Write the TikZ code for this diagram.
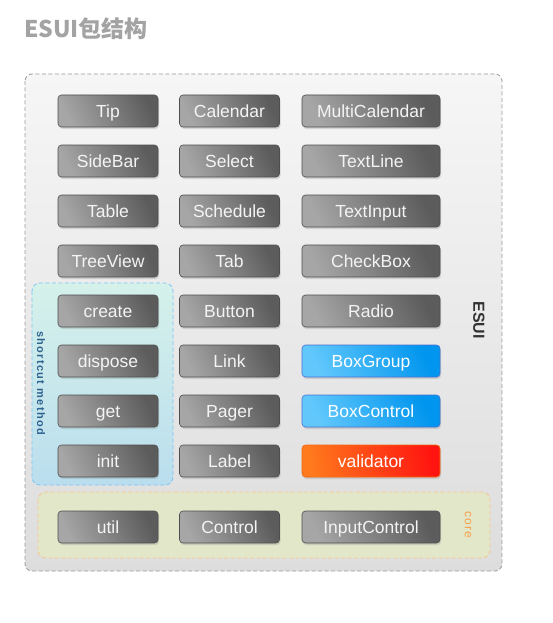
\documentclass[tikz,border=0pt]{standalone}
\usepackage{fontspec}
\setmainfont{Liberation Sans}
\newfontfamily\cjk{Noto Sans CJK SC}
\usetikzlibrary{shadows}
\definecolor{btnL}{HTML}{A6A6A6}
\definecolor{btnR}{HTML}{5C5C5C}
\definecolor{btnB}{HTML}{4E4E4E}
\definecolor{blueL}{HTML}{62C8FC}
\definecolor{blueR}{HTML}{0095EE}
\definecolor{blueB}{HTML}{4C70D2}
\definecolor{redL}{HTML}{FF7A1C}
\definecolor{redR}{HTML}{FF1410}
\definecolor{redB}{HTML}{F06A10}
\definecolor{outerT}{HTML}{F6F6F6}
\definecolor{outerB}{HTML}{DDDDDD}
\definecolor{outerD}{HTML}{9A9A9A}
\definecolor{scT}{HTML}{D5F1EA}
\definecolor{scB}{HTML}{BADEEE}
\definecolor{scD}{HTML}{7CC6F4}
\definecolor{scTxt}{HTML}{2E6390}
\definecolor{coreF}{HTML}{E2E7CA}
\definecolor{coreD}{HTML}{F8C58E}
\definecolor{coreTxt}{HTML}{F7A04A}
\definecolor{titleC}{HTML}{A3A3A3}
\definecolor{btnTxt}{HTML}{F4F4F4}
\tikzset{
  btn/.style={rounded corners=3.5pt, minimum height=32pt, minimum width=100pt,
    inner sep=0pt, text height=14pt, text depth=1.5pt, draw=btnB, line width=0.6pt,
    left color=btnL, right color=btnR, shading angle=115,
    drop shadow={shadow xshift=1pt, shadow yshift=-2pt, opacity=0.25},
    text=btnTxt, font=\fontsize{17.5}{20}\selectfont},
  wide/.style={minimum width=138pt},
  bluebtn/.style={draw=blueB, left color=blueL, right color=blueR, shading angle=115,
    text=white},
  redbtn/.style={draw=redB, left color=redL, right color=redR, shading angle=100,
    text=white},
  grp/.style={rounded corners=8pt, dashed, dash pattern=on 4pt off 2.5pt, line width=0.8pt}
}
\begin{document}
\begin{tikzpicture}[x=1pt,y=-1pt]
\useasboundingbox (0,0) rectangle (552,623);
\fill[white] (0,0) rectangle (552,623);
\node[anchor=base west, inner sep=0pt, text=titleC, font=\cjk\bfseries\fontsize{23}{26}\selectfont] (title) at (24,38) {ESUI包结构};
% outer box
\path[grp, rounded corners=7pt, draw=outerD, top color=outerT, bottom color=outerB] (25,74) rectangle (502,571);
\node[rotate=-90, font=\bfseries\fontsize{16}{18}\selectfont, text=black!80] (esui) at (479,320) {ESUI};
% shortcut box
\path[grp, draw=scD, top color=scT, bottom color=scB] (32,283) rectangle (173,485);
\node[rotate=-90, font=\bfseries\fontsize{11}{13}\selectfont\addfontfeature{LetterSpace=12}, text=scTxt] (sc) at (41,383) {shortcut method};
% core box
\path[grp, draw=coreD, fill=coreF] (38,492) rectangle (490,558);
\node[rotate=-90, font=\fontsize{12}{14}\selectfont\addfontfeature{LetterSpace=8}, text=coreTxt] (core) at (468,525) {core};
% column 1
\node[btn] (tip) at (108,111) {Tip};
\node[btn] (sidebar) at (108,161) {SideBar};
\node[btn] (table) at (108,211) {Table};
\node[btn] (treeview) at (108,261) {TreeView};
\node[btn] (create) at (108,311) {create};
\node[btn] (dispose) at (108,361) {dispose};
\node[btn] (get) at (108,411) {get};
\node[btn] (init) at (108,461) {init};
% column 2
\node[btn] (calendar) at (229.5,111) {Calendar};
\node[btn] (select) at (229.5,161) {Select};
\node[btn] (schedule) at (229.5,211) {Schedule};
\node[btn] (tab) at (229.5,261) {Tab};
\node[btn] (button) at (229.5,311) {Button};
\node[btn] (link) at (229.5,361) {Link};
\node[btn] (pager) at (229.5,411) {Pager};
\node[btn] (label) at (229.5,461) {Label};
% column 3
\node[btn,wide] (multical) at (371,111) {MultiCalendar};
\node[btn,wide] (textline) at (371,161) {TextLine};
\node[btn,wide] (textinput) at (371,211) {TextInput};
\node[btn,wide] (checkbox) at (371,261) {CheckBox};
\node[btn,wide] (radio) at (371,311) {Radio};
\node[btn,wide,bluebtn] (boxgroup) at (371,361) {BoxGroup};
\node[btn,wide,bluebtn] (boxcontrol) at (371,411) {BoxControl};
\node[btn,wide,redbtn] (validator) at (371,461) {validator};
% core row
\node[btn] (util) at (108,527) {util};
\node[btn] (control) at (229.5,527) {Control};
\node[btn,wide] (inputcontrol) at (371,527) {InputControl};
\end{tikzpicture}
\end{document}
